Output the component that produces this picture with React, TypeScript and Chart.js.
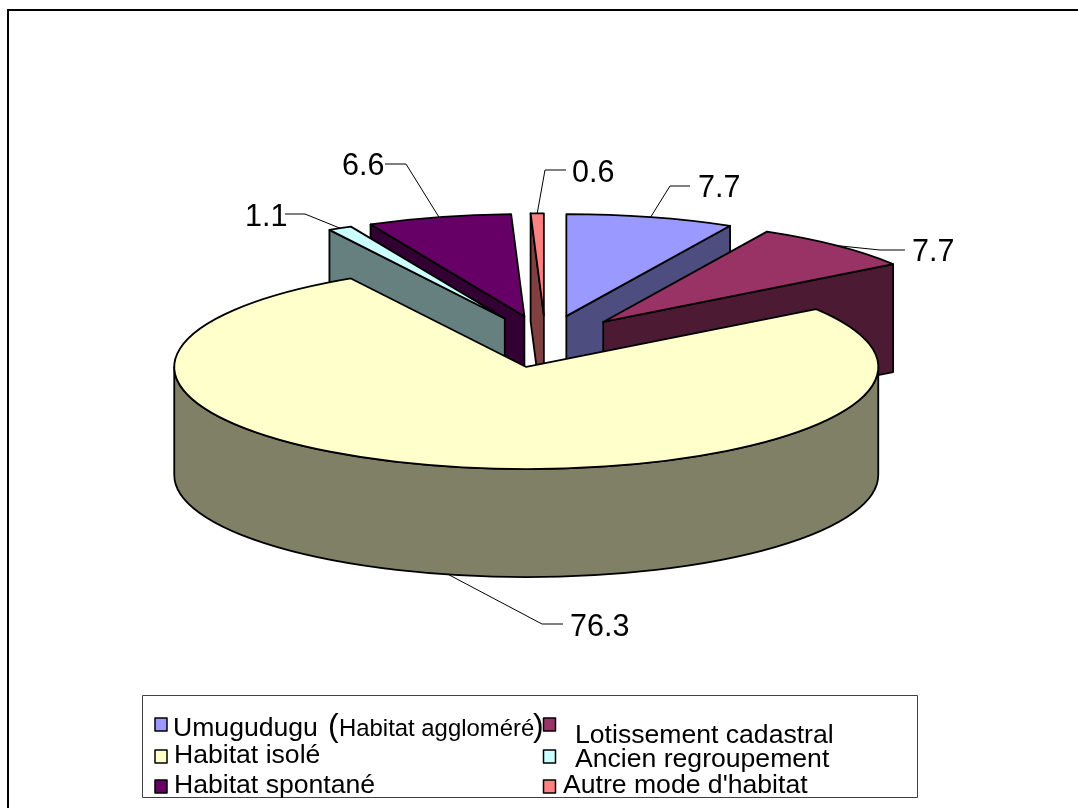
import React, { useEffect, useRef } from "react";
import { Chart, registerables } from "chart.js";

Chart.register(...registerables);

const LABELS = [
  "Umugudugu (Habitat aggloméré)",
  "Lotissement cadastral",
  "Habitat isolé",
  "Ancien regroupement",
  "Habitat spontané",
  "Autre mode d'habitat",
];
const VALUES = [7.7, 7.7, 76.3, 1.1, 6.6, 0.6];
const TOP_COLORS = ["#9999FF", "#993366", "#FFFFCC", "#CCFFFF", "#660066", "#FF8080"];
const SIDE_COLORS = ["#4D4D80", "#4D1A33", "#808066", "#668080", "#330033", "#804040"];
const PAINT_ORDER = [5, 0, 4, 3, 1, 2];

const FONT = '"Liberation Sans", Arial, sans-serif';
const EXPLODE = 87;
const EXPLODE_TILT = 0.3;
const RADIUS = 352;
const TILT = 0.29;
const DEPTH = 108;

// label text position [x, baseline] and leader elbow [start x, elbow x, y]
const DATA_LABEL_LAYOUT = [
  { x: 698, y: 197, from: 690, elbow: 670, ly: 186 },
  { x: 912, y: 261, from: 905, elbow: 880, ly: 250 },
  { x: 570, y: 636, from: 563, elbow: 542, ly: 624, onWall: true },
  { x: 245, y: 226, from: 285, elbow: 305, ly: 214 },
  { x: 342, y: 175, from: 385, elbow: 406, ly: 164 },
  { x: 572, y: 182, from: 566, elbow: 545, ly: 170 },
];

// mark x, mark y, text x, text baseline
const LEGEND_LAYOUT = [
  { mx: 155, my: 718, tx: 173, ty: 736 },
  { mx: 543.5, my: 718, tx: 575, ty: 743 },
  { mx: 155, my: 750, tx: 174, ty: 763 },
  { mx: 543.5, my: 750, tx: 575, ty: 767 },
  { mx: 155, my: 780, tx: 174, ty: 793 },
  { mx: 543.5, my: 780, tx: 563, ty: 793 },
];

function topPath(ctx: CanvasRenderingContext2D, ax: number, ay: number, r: number, a0: number, a1: number) {
  ctx.beginPath();
  ctx.moveTo(ax, ay);
  ctx.ellipse(ax, ay, r, r * TILT, 0, a0, a1);
  ctx.closePath();
}

function facePath(ctx: CanvasRenderingContext2D, ax: number, ay: number, r: number, a: number) {
  const px = ax + r * Math.cos(a);
  const py = ay + r * TILT * Math.sin(a);
  ctx.beginPath();
  ctx.moveTo(ax, ay);
  ctx.lineTo(px, py);
  ctx.lineTo(px, py + DEPTH);
  ctx.lineTo(ax, ay + DEPTH);
  ctx.closePath();
}

function apexOf(arc: any) {
  const mid = (arc.startAngle + arc.endAngle) / 2;
  const e = arc.options.offset || 0;
  return {
    mid,
    ax: arc.x + e * Math.cos(mid),
    ay: arc.y + e * EXPLODE_TILT * Math.sin(mid),
  };
}

const pie3d = {
  id: "pie3d",
  beforeDatasetDraw(chart: any, args: any) {
    const ctx: CanvasRenderingContext2D = chart.ctx;
    const arcs = args.meta.data;
    ctx.save();

    // page frame
    ctx.fillStyle = "#000";
    ctx.fillRect(7, 9, 1071, 2);
    ctx.fillRect(7, 9, 2, 799);

    ctx.lineJoin = "round";
    ctx.lineWidth = 1.8;
    ctx.strokeStyle = "#000";

    for (const i of PAINT_ORDER) {
      const arc = arcs[i];
      const { ax, ay } = apexOf(arc);
      const r = arc.outerRadius;
      const a0 = arc.startAngle;
      const a1 = arc.endAngle;
      const t0 = a0 + Math.PI / 2;
      const t1 = a1 + Math.PI / 2;
      ctx.fillStyle = SIDE_COLORS[i];
      if (t0 > Math.PI && t0 < 2 * Math.PI) {
        facePath(ctx, ax, ay, r, a0);
        ctx.fill();
        ctx.stroke();
      }
      if (t1 > 0 && t1 < Math.PI) {
        facePath(ctx, ax, ay, r, a1);
        ctx.fill();
        ctx.stroke();
      }
      const w0 = Math.max(a0, 0);
      const w1 = Math.min(a1, Math.PI);
      if (w1 > w0) {
        ctx.beginPath();
        ctx.ellipse(ax, ay, r, r * TILT, 0, w0, w1);
        ctx.ellipse(ax, ay + DEPTH, r, r * TILT, 0, w1, w0, true);
        ctx.closePath();
        ctx.fill();
        ctx.stroke();
      }
      ctx.fillStyle = arc.options.backgroundColor;
      topPath(ctx, ax, ay, r, a0, a1);
      ctx.fill();
      ctx.stroke();
    }

    // leader lines and value labels
    ctx.lineWidth = 1;
    ctx.strokeStyle = "#000";
    ctx.fillStyle = "#000";
    ctx.font = `30.5px ${FONT}`;
    ctx.textAlign = "left";
    ctx.textBaseline = "alphabetic";
    VALUES.forEach((v, i) => {
      const arc = arcs[i];
      const { ax, ay, mid } = apexOf(arc);
      const L = DATA_LABEL_LAYOUT[i];
      const ex = ax + arc.outerRadius * Math.cos(mid);
      const ey = ay + arc.outerRadius * TILT * Math.sin(mid) + (L.onWall ? DEPTH : 0);
      ctx.beginPath();
      ctx.moveTo(L.from, L.ly);
      ctx.lineTo(L.elbow, L.ly);
      ctx.lineTo(ex, ey);
      ctx.stroke();
      ctx.fillText(v.toFixed(1), L.x, L.y);
    });

    // legend
    ctx.lineWidth = 1;
    ctx.strokeStyle = "#404040";
    ctx.strokeRect(142.5, 695.5, 775, 102);
    LABELS.forEach((label, i) => {
      const L = LEGEND_LAYOUT[i];
      ctx.fillStyle = TOP_COLORS[i];
      ctx.strokeStyle = "#000";
      ctx.lineWidth = 1.5;
      ctx.fillRect(L.mx, L.my, 12, 13);
      ctx.strokeRect(L.mx, L.my, 12, 13);
      ctx.fillStyle = "#000";
      const open = label.indexOf("(");
      if (open < 0) {
        ctx.font = `26.6px ${FONT}`;
        ctx.fillText(label, L.tx, L.ty);
      } else {
        ctx.font = `26.6px ${FONT}`;
        ctx.fillText(label.slice(0, open).trim(), L.tx, L.ty);
        ctx.font = `32px ${FONT}`;
        ctx.fillText("(", 328, L.ty);
        ctx.font = `23.9px ${FONT}`;
        ctx.fillText(label.slice(open + 1, label.indexOf(")")), 339, L.ty);
        ctx.font = `32px ${FONT}`;
        ctx.fillText(")", 533, L.ty);
      }
    });

    ctx.restore();
    return false;
  },
};

export default function App() {
  const ref = useRef<HTMLCanvasElement>(null);
  useEffect(() => {
    const chart = new Chart(ref.current as HTMLCanvasElement, {
      type: "pie",
      data: {
        labels: LABELS,
        datasets: [
          {
            data: VALUES,
            backgroundColor: TOP_COLORS,
            borderColor: "#000",
            offset: EXPLODE,
          },
        ],
      },
      options: {
        responsive: false,
        animation: false,
        radius: RADIUS,
        layout: { padding: { left: 13, bottom: 125 } },
        plugins: { legend: { display: false }, tooltip: { enabled: false } },
      },
      plugins: [pie3d],
    } as any);
    return () => chart.destroy();
  }, []);
  return (
    <div style={{ position: "fixed", left: 0, top: 0, width: 1078, height: 808, background: "#fff" }}>
      <canvas ref={ref} width={1078} height={808} style={{ display: "block" }} />
    </div>
  );
}
